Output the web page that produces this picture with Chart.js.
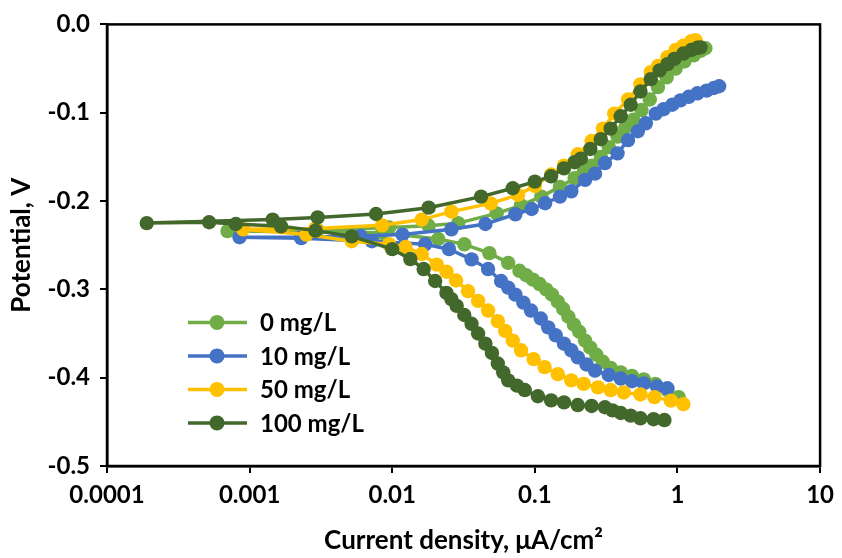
<!DOCTYPE html>
<html>
<head>
<meta charset="utf-8">
<script src="https://cdn.jsdelivr.net/npm/chart.js@4"></script>
<style>
  html, body { margin: 0; padding: 0; background: #fff; }
  #wrap { width: 842px; height: 558px; position: relative; }
</style>
</head>
<body>
<div id="wrap"><canvas id="tafelChart"></canvas></div>
<script>
// Tafel polarization data
const seriesLabels = ['0 mg/L', '10 mg/L', '50 mg/L', '100 mg/L'];
const seriesColors = ['#70AD47', '#4472C4', '#FFC000', '#43682B'];

const xTickValues = [0.0001, 0.001, 0.01, 0.1, 1, 10];
const xTickLabels = ['0.0001', '0.001', '0.01', '0.1', '1', '10'];
const yTickValues = [0, -0.1, -0.2, -0.3, -0.4, -0.5];

// 0 mg/L
const current0 = [1.02, 0.85, 0.7, 0.58, 0.48, 0.4, 0.34, 0.3, 0.27, 0.245, 0.225, 0.205, 0.188, 0.172, 0.158, 0.145, 0.132, 0.12, 0.108, 0.097, 0.087, 0.078, 0.065, 0.048, 0.032, 0.021, 0.0085, 0.0007,
  0.003, 0.0095, 0.018, 0.029, 0.054, 0.08, 0.111, 0.15, 0.19, 0.22, 0.25, 0.29, 0.33, 0.38, 0.43, 0.49, 0.56, 0.64, 0.73, 0.84, 0.97, 1.12, 1.3, 1.45, 1.57];
const potential0 = [-0.422, -0.414, -0.407, -0.402, -0.398, -0.394, -0.389, -0.382, -0.374, -0.366, -0.358, -0.348, -0.340, -0.331, -0.322, -0.314, -0.306, -0.300, -0.294, -0.289, -0.284, -0.279, -0.270, -0.259, -0.249, -0.243, -0.236, -0.234,
  -0.233, -0.230, -0.228, -0.225, -0.214, -0.205, -0.195, -0.184, -0.174, -0.167, -0.160, -0.150, -0.139, -0.127, -0.117, -0.108, -0.097, -0.085, -0.071, -0.060, -0.050, -0.042, -0.035, -0.030, -0.027];

// 10 mg/L
const current10 = [0.85, 0.72, 0.58, 0.48, 0.4, 0.33, 0.264, 0.23, 0.2, 0.18, 0.16, 0.14, 0.124, 0.11, 0.094, 0.083, 0.073, 0.065, 0.058, 0.047, 0.036, 0.025, 0.017, 0.0072, 0.0023, 0.00085,
  0.0023, 0.006, 0.0118, 0.026, 0.045, 0.073, 0.095, 0.118, 0.15, 0.18, 0.225, 0.264, 0.31, 0.38, 0.45, 0.527, 0.6, 0.705, 0.8, 0.92, 1.05, 1.2, 1.38, 1.6, 1.8, 1.96];
const potential10 = [-0.412, -0.410, -0.4065, -0.404, -0.401, -0.397, -0.392, -0.385, -0.377, -0.369, -0.3615, -0.352, -0.343, -0.333, -0.324, -0.315, -0.306, -0.298, -0.2906, -0.277, -0.266, -0.2545, -0.249, -0.2455, -0.242, -0.241,
  -0.241, -0.2395, -0.238, -0.232, -0.226, -0.215, -0.209, -0.2025, -0.195, -0.189, -0.176, -0.169, -0.157, -0.146, -0.131, -0.121, -0.112, -0.101, -0.096, -0.091, -0.086, -0.082, -0.078, -0.075, -0.072, -0.070];

// 50 mg/L
const current50 = [1.1, 0.9, 0.69, 0.55, 0.42, 0.34, 0.277, 0.22, 0.18, 0.145, 0.117, 0.098, 0.08, 0.07, 0.062, 0.055, 0.047, 0.04, 0.034, 0.028, 0.024, 0.0205, 0.0161, 0.0124, 0.0095, 0.0052, 0.0025, 0.0009,
  0.0029, 0.0085, 0.0161, 0.026, 0.049, 0.0763, 0.1, 0.13, 0.16, 0.2, 0.25, 0.3, 0.36, 0.45, 0.55, 0.65, 0.73, 0.85, 0.97, 1.1, 1.25, 1.34];
const potential50 = [-0.430, -0.426, -0.422, -0.419, -0.4167, -0.414, -0.411, -0.407, -0.403, -0.396, -0.388, -0.379, -0.369, -0.358, -0.347, -0.336, -0.324, -0.313, -0.302, -0.290, -0.280, -0.272, -0.260, -0.252, -0.249, -0.2455, -0.238, -0.232,
  -0.231, -0.2275, -0.221, -0.212, -0.2027, -0.193, -0.183, -0.170, -0.160, -0.147, -0.132, -0.118, -0.101, -0.085, -0.068, -0.054, -0.047, -0.037, -0.029, -0.024, -0.019, -0.018];

// 100 mg/L
const current100 = [0.81, 0.68, 0.55, 0.47, 0.4, 0.35, 0.31, 0.25, 0.2, 0.16, 0.13, 0.105, 0.085, 0.075, 0.065, 0.06, 0.055, 0.05, 0.045, 0.04, 0.036, 0.032, 0.0283, 0.026, 0.024, 0.02, 0.0166, 0.0134, 0.01, 0.0052, 0.0029, 0.00166, 0.0008, 0.00052, 0.00019,
  0.00145, 0.003, 0.0077, 0.018, 0.042, 0.07, 0.1, 0.13, 0.16, 0.19, 0.21, 0.245, 0.29, 0.34, 0.4, 0.47, 0.55, 0.65, 0.75, 0.85, 0.95, 1.1, 1.25, 1.38, 1.45];
const potential100 = [-0.448, -0.447, -0.446, -0.443, -0.440, -0.437, -0.4335, -0.432, -0.431, -0.428, -0.4257, -0.421, -0.414, -0.409, -0.403, -0.394, -0.384, -0.372, -0.3615, -0.350, -0.339, -0.329, -0.3187, -0.311, -0.304, -0.2905, -0.277, -0.2657, -0.2545, -0.240, -0.2335, -0.2286, -0.226, -0.224, -0.225,
  -0.221, -0.2185, -0.2147, -0.2075, -0.195, -0.1855, -0.178, -0.172, -0.163, -0.156, -0.152, -0.141, -0.130, -0.118, -0.104, -0.091, -0.076, -0.062, -0.052, -0.045, -0.039, -0.033, -0.029, -0.0265, -0.026];

const currents = [current0, current10, current50, current100];
const potentials = [potential0, potential10, potential50, potential100];

const FONT = 'Lato, "Open Sans", sans-serif';

// frame round the plot area + legend inside the plot, Excel style
const framePlugin = {
    id: 'frame',
    afterDraw(chart) {
        const { ctx, chartArea: a } = chart;
        ctx.save();
        ctx.strokeStyle = '#000';
        ctx.lineWidth = 2.5;
        ctx.strokeRect(a.left, a.top, a.right - a.left, a.bottom - a.top);

        // legend
        const lx = a.left + 81;
        let ly = a.top + 298;
        ctx.font = 'bold 24px ' + FONT;
        ctx.textBaseline = 'middle';
        seriesLabels.forEach((lab, i) => {
            ctx.strokeStyle = seriesColors[i];
            ctx.lineWidth = 3.5;
            ctx.beginPath();
            ctx.moveTo(lx, ly);
            ctx.lineTo(lx + 59, ly);
            ctx.stroke();
            ctx.fillStyle = seriesColors[i];
            ctx.beginPath();
            ctx.arc(lx + 29, ly, 7.5, 0, Math.PI * 2);
            ctx.fill();
            ctx.fillStyle = '#000';
            ctx.fillText(lab, lx + 72, ly + 1);
            ly += 33.5;
        });
        ctx.restore();
    }
};

document.addEventListener('DOMContentLoaded', function() {
    const ctx = document.getElementById('tafelChart');

    const datasets = seriesLabels.map((lab, i) => ({
        label: lab,
        data: currents[i].map((c, k) => ({ x: c, y: potentials[i][k] })),
        showLine: true,
        borderColor: seriesColors[i],
        backgroundColor: seriesColors[i],
        borderWidth: 3.5,
        pointRadius: 7.2,
        pointBorderWidth: 0,
        pointBackgroundColor: seriesColors[i],
        order: seriesLabels.length - i,
        tension: 0,
    }));

    new Chart(ctx.getContext('2d'), {
        type: 'scatter',
        data: { datasets: datasets },
        options: {
            responsive: true,
            maintainAspectRatio: false,
            animation: false,
            layout: { padding: { top: 22, right: 19, left: 0, bottom: 0 } },
            plugins: {
                legend: { display: false },
                tooltip: { enabled: false },
            },
            scales: {
                x: {
                    type: 'logarithmic',
                    min: 0.0001,
                    max: 10,
                    afterBuildTicks: (scale) => {
                        scale.ticks = xTickValues.map(v => ({ value: v }));
                    },
                    afterFit: (scale) => { scale.height = 92; },
                    ticks: {
                        autoSkip: false,
                        maxRotation: 0,
                        padding: 8,
                        color: '#000',
                        font: { family: FONT, size: 24, weight: 'bold' },
                        callback: (v, idx) => xTickLabels[idx],
                    },
                    grid: {
                        drawOnChartArea: false,
                        drawTicks: true,
                        tickLength: 7,
                        color: '#000',
                        lineWidth: 2,
                    },
                    border: { color: '#000', width: 2.5 },
                    title: {
                        display: true,
                        text: 'Current density, μA/cm²',
                        color: '#000',
                        font: { family: FONT, size: 26, weight: 'bold' },
                        padding: { top: 0, bottom: 2 },
                    },
                },
                y: {
                    type: 'linear',
                    min: -0.5,
                    max: 0,
                    afterBuildTicks: (scale) => {
                        scale.ticks = yTickValues.map(v => ({ value: v }));
                    },
                    afterFit: (scale) => { scale.width = 107; },
                    ticks: {
                        padding: 10,
                        color: '#000',
                        font: { family: FONT, size: 24, weight: 'bold' },
                        callback: (v) => v.toFixed(1),
                    },
                    grid: {
                        drawOnChartArea: false,
                        drawTicks: true,
                        tickLength: 7,
                        color: '#000',
                        lineWidth: 2,
                    },
                    border: { color: '#000', width: 2.5 },
                    title: {
                        display: true,
                        text: 'Potential, V',
                        color: '#000',
                        font: { family: FONT, size: 26, weight: 'bold' },
                        padding: { top: 6, bottom: 0 },
                    },
                }
            }
        },
        plugins: [framePlugin]
    });
});
</script>
</body>
</html>
